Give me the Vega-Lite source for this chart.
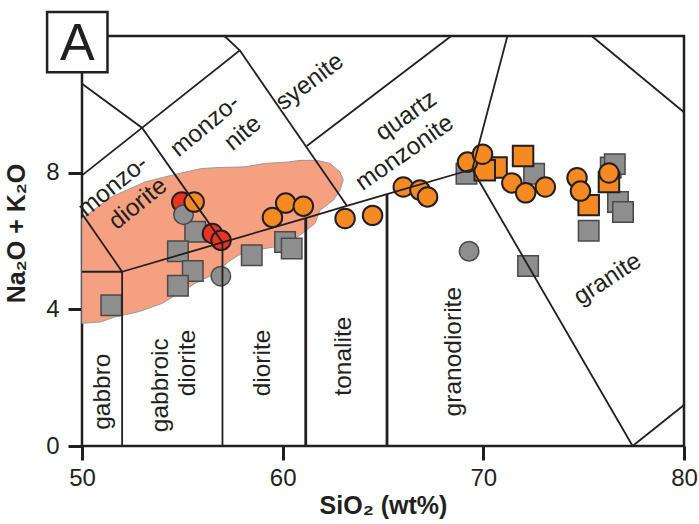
{
  "$schema": "https://vega.github.io/schema/vega-lite/v6.json",
  "width": 602,
  "height": 410,
  "autosize": {"type": "none"},
  "padding": {"left": 82, "top": 36, "right": 15, "bottom": 78},
  "background": "white",
  "config": {"view": {"stroke": "#231F20", "strokeWidth": 2.5}, "font": "Liberation Sans"},
  "datasets": {
    "blob": [
      {"i": 0, "x": 50.0, "y": 6.66}, {"i": 1, "x": 51.47, "y": 7.29}, {"i": 2, "x": 53.14, "y": 7.73},
      {"i": 3, "x": 54.79, "y": 7.97}, {"i": 4, "x": 55.95, "y": 8.12}, {"i": 5, "x": 56.78, "y": 8.15},
      {"i": 6, "x": 58.11, "y": 8.17}, {"i": 7, "x": 59.11, "y": 8.27}, {"i": 8, "x": 60.27, "y": 8.31},
      {"i": 9, "x": 60.87, "y": 8.36}, {"i": 10, "x": 61.7, "y": 8.36}, {"i": 11, "x": 62.36, "y": 8.27},
      {"i": 12, "x": 62.86, "y": 8.02}, {"i": 13, "x": 63.02, "y": 7.78}, {"i": 14, "x": 62.86, "y": 7.49},
      {"i": 15, "x": 62.52, "y": 7.19}, {"i": 16, "x": 61.86, "y": 6.9}, {"i": 17, "x": 61.61, "y": 6.51},
      {"i": 18, "x": 60.62, "y": 6.07}, {"i": 19, "x": 59.62, "y": 5.83}, {"i": 20, "x": 58.63, "y": 5.73},
      {"i": 21, "x": 57.79, "y": 5.58}, {"i": 22, "x": 57.3, "y": 5.39}, {"i": 23, "x": 56.64, "y": 5.05},
      {"i": 24, "x": 55.64, "y": 4.76}, {"i": 25, "x": 54.81, "y": 4.46}, {"i": 26, "x": 53.98, "y": 4.17},
      {"i": 27, "x": 52.82, "y": 3.93}, {"i": 28, "x": 51.66, "y": 3.78}, {"i": 29, "x": 50.91, "y": 3.63},
      {"i": 30, "x": 50.0, "y": 3.59}, {"i": 31, "x": 50.0, "y": 6.66}
    ],
    "thin": [
      {"seg": "a", "i": 0, "x": 50, "y": 5.1}, {"seg": "a", "i": 1, "x": 52, "y": 5.1},
      {"seg": "b", "i": 0, "x": 52, "y": 0}, {"seg": "b", "i": 1, "x": 52, "y": 5.1},
      {"seg": "c", "i": 0, "x": 57, "y": 0}, {"seg": "c", "i": 1, "x": 57, "y": 5.96},
      {"seg": "d", "i": 0, "x": 52, "y": 5.1}, {"seg": "d", "i": 1, "x": 57, "y": 5.96},
      {"seg": "d", "i": 2, "x": 61.15, "y": 6.67}, {"seg": "d", "i": 3, "x": 63.2, "y": 7.03},
      {"seg": "d", "i": 4, "x": 65.2, "y": 7.37}, {"seg": "d", "i": 5, "x": 69.45, "y": 8.1},
      {"seg": "e", "i": 0, "x": 50, "y": 6.8}, {"seg": "e", "i": 1, "x": 52, "y": 5.1},
      {"seg": "f", "i": 0, "x": 50, "y": 7.92}, {"seg": "f", "i": 1, "x": 57.86, "y": 11.58}, {"seg": "f", "i": 2, "x": 57.1, "y": 12},
      {"seg": "g", "i": 0, "x": 50, "y": 10.6}, {"seg": "g", "i": 1, "x": 53.0, "y": 9.31}, {"seg": "g", "i": 2, "x": 57, "y": 5.96},
      {"seg": "h", "i": 0, "x": 57.86, "y": 11.58}, {"seg": "h", "i": 1, "x": 63.2, "y": 7.03},
      {"seg": "k", "i": 0, "x": 61.2, "y": 8.78}, {"seg": "k", "i": 1, "x": 68.4, "y": 12},
      {"seg": "m", "i": 0, "x": 71.2, "y": 12}, {"seg": "m", "i": 1, "x": 69.45, "y": 8.1}, {"seg": "m", "i": 2, "x": 77.44, "y": 0},
      {"seg": "n", "i": 0, "x": 77.44, "y": 0}, {"seg": "n", "i": 1, "x": 80, "y": 1.2},
      {"seg": "p", "i": 0, "x": 75.4, "y": 12}, {"seg": "p", "i": 1, "x": 80, "y": 9.77}
    ],
    "thick": [
      {"seg": "t1", "i": 0, "x": 61.15, "y": 0}, {"seg": "t1", "i": 1, "x": 61.15, "y": 6.67},
      {"seg": "t2", "i": 0, "x": 65.2, "y": 0}, {"seg": "t2", "i": 1, "x": 65.2, "y": 7.37}
    ],
    "samples": [
      {"g": "gray_square", "x": 55.64, "y": 6.27}, {"g": "gray_square", "x": 54.78, "y": 5.7},
      {"g": "gray_square", "x": 55.52, "y": 5.12}, {"g": "gray_square", "x": 54.78, "y": 4.69},
      {"g": "gray_square", "x": 51.46, "y": 4.12}, {"g": "gray_square", "x": 58.46, "y": 5.58},
      {"g": "gray_square", "x": 60.12, "y": 5.97}, {"g": "gray_square", "x": 60.45, "y": 5.78},
      {"g": "gray_square", "x": 69.16, "y": 7.97}, {"g": "gray_square", "x": 72.53, "y": 7.97},
      {"g": "gray_square", "x": 75.25, "y": 6.3}, {"g": "gray_square", "x": 76.35, "y": 8.15},
      {"g": "gray_square", "x": 76.55, "y": 8.25}, {"g": "gray_square", "x": 76.71, "y": 7.14},
      {"g": "gray_square", "x": 76.96, "y": 6.85}, {"g": "gray_square", "x": 72.23, "y": 5.27},
      {"g": "red_circle", "x": 54.97, "y": 7.14}, {"g": "red_circle", "x": 56.5, "y": 6.22},
      {"g": "red_circle", "x": 56.93, "y": 6.02},
      {"g": "gray_circle", "x": 55.06, "y": 6.77}, {"g": "gray_circle", "x": 56.92, "y": 4.97},
      {"g": "gray_circle", "x": 69.29, "y": 5.7},
      {"g": "orange_square", "x": 70.66, "y": 8.15}, {"g": "orange_square", "x": 70.07, "y": 8.07},
      {"g": "orange_square", "x": 71.98, "y": 8.49}, {"g": "orange_square", "x": 75.25, "y": 7.05},
      {"g": "orange_square", "x": 76.26, "y": 7.73},
      {"g": "orange_circle", "x": 55.59, "y": 7.14}, {"g": "orange_circle", "x": 59.49, "y": 6.69},
      {"g": "orange_circle", "x": 60.15, "y": 7.11}, {"g": "orange_circle", "x": 61.03, "y": 7.02},
      {"g": "orange_circle", "x": 63.11, "y": 6.66}, {"g": "orange_circle", "x": 64.48, "y": 6.75},
      {"g": "orange_circle", "x": 66.01, "y": 7.58}, {"g": "orange_circle", "x": 66.84, "y": 7.49},
      {"g": "orange_circle", "x": 67.22, "y": 7.29}, {"g": "orange_circle", "x": 69.21, "y": 8.31},
      {"g": "orange_circle", "x": 69.96, "y": 8.54}, {"g": "orange_circle", "x": 71.42, "y": 7.7},
      {"g": "orange_circle", "x": 72.11, "y": 7.41}, {"g": "orange_circle", "x": 73.09, "y": 7.58},
      {"g": "orange_circle", "x": 74.67, "y": 7.85}, {"g": "orange_circle", "x": 74.84, "y": 7.46},
      {"g": "orange_circle", "x": 76.26, "y": 7.99}
    ],
    "labels": [
      {"zone": "monzodiorite", "text": "monzo-", "x": 51.56, "y": 7.6},
      {"zone": "monzodiorite", "text": "diorite", "x": 52.8, "y": 7.08},
      {"zone": "monzonite", "text": "monzo-", "x": 56.15, "y": 9.36},
      {"zone": "monzonite", "text": "nite", "x": 58.03, "y": 9.15},
      {"zone": "syenite", "text": "syenite", "x": 61.36, "y": 10.65},
      {"zone": "quartz monzonite", "text": "quartz", "x": 66.17, "y": 9.65},
      {"zone": "quartz monzonite", "text": "monzonite", "x": 66.09, "y": 8.57},
      {"zone": "granite", "text": "granite", "x": 76.2, "y": 4.88},
      {"zone": "gabbro", "text": "gabbro", "x": 51.06, "y": 1.59},
      {"zone": "gabbroic diorite", "text": "gabbroic", "x": 53.95, "y": 1.78},
      {"zone": "gabbroic diorite", "text": "diorite", "x": 55.29, "y": 2.43},
      {"zone": "diorite", "text": "diorite", "x": 59.02, "y": 2.43},
      {"zone": "tonalite", "text": "tonalite", "x": 63.05, "y": 2.63},
      {"zone": "granodiorite", "text": "granodiorite", "x": 68.53, "y": 2.76}
    ],
    "panel": [
      {"x": 48.26, "x2": 51.27, "y": 10.94, "y2": 12.7, "label": "A", "tx": 49.77, "ty": 11.29}
    ]
  },
  "encoding": {
    "x": {
      "field": "x", "type": "quantitative",
      "scale": {"domain": [50, 80], "nice": false, "zero": false},
      "axis": {
        "values": [50, 60, 70, 80], "title": "SiO₂ (wt%)", "grid": false, "domain": false,
        "tickSize": 14, "tickWidth": 3, "tickColor": "#231F20",
        "labelFontSize": 24, "labelColor": "#231F20", "labelPadding": 6, "labelFlush": false,
        "labelFont": "Liberation Sans", "titleFont": "Liberation Sans", "titleFontSize": 25,
        "titleFontWeight": "bold", "titleColor": "#231F20",
        "titleX": 301, "titleY": 67, "titleAlign": "center", "titleBaseline": "alphabetic"
      }
    },
    "y": {
      "field": "y", "type": "quantitative",
      "scale": {"domain": [0, 12], "nice": false, "zero": false},
      "axis": {
        "values": [0, 4, 8], "title": "Na₂O + K₂O", "grid": false, "domain": false,
        "tickSize": 14, "tickWidth": 3, "tickColor": "#231F20",
        "labelFontSize": 24, "labelColor": "#231F20", "labelPadding": 9,
        "labelFont": "Liberation Sans", "titleFont": "Liberation Sans", "titleFontSize": 25,
        "titleFontWeight": "bold", "titleColor": "#231F20",
        "titleX": -58, "titleY": 197, "titleAngle": 270, "titleAlign": "center", "titleBaseline": "alphabetic"
      }
    }
  },
  "layer": [
    {
      "data": {"name": "blob"},
      "mark": {"type": "line", "filled": true, "fill": "#F4A081", "stroke": "#9A9A9A", "strokeWidth": 1},
      "encoding": {"order": {"field": "i", "type": "quantitative"}}
    },
    {
      "data": {"name": "samples"},
      "transform": [{"filter": "datum.g === 'gray_square'"}],
      "mark": {"type": "point", "shape": "square", "filled": true, "fill": "#8E8E8E", "stroke": "#4A4A4A", "strokeWidth": 1.5, "size": 420, "opacity": 1}
    },
    {
      "data": {"name": "samples"},
      "transform": [{"filter": "datum.g === 'red_circle'"}],
      "mark": {"type": "point", "shape": "circle", "filled": true, "fill": "#EC3323", "stroke": "#231F20", "strokeWidth": 2, "size": 380, "opacity": 1}
    },
    {
      "data": {"name": "samples"},
      "transform": [{"filter": "datum.g === 'gray_circle'"}],
      "mark": {"type": "point", "shape": "circle", "filled": true, "fill": "#8E8E8E", "stroke": "#4A4A4A", "strokeWidth": 1.5, "size": 380, "opacity": 1}
    },
    {
      "data": {"name": "samples"},
      "transform": [{"filter": "datum.g === 'orange_square'"}],
      "mark": {"type": "point", "shape": "square", "filled": true, "fill": "#F58A22", "stroke": "#231F20", "strokeWidth": 2, "size": 420, "opacity": 1}
    },
    {
      "data": {"name": "samples"},
      "transform": [{"filter": "datum.g === 'orange_circle'"}],
      "mark": {"type": "point", "shape": "circle", "filled": true, "fill": "#F58A22", "stroke": "#231F20", "strokeWidth": 2, "size": 380, "opacity": 1}
    },
    {
      "data": {"name": "thin"},
      "mark": {"type": "line", "stroke": "#231F20", "strokeWidth": 1.8},
      "encoding": {"detail": {"field": "seg"}, "order": {"field": "i", "type": "quantitative"}}
    },
    {
      "data": {"name": "thick"},
      "mark": {"type": "line", "stroke": "#231F20", "strokeWidth": 2.8},
      "encoding": {"detail": {"field": "seg"}, "order": {"field": "i", "type": "quantitative"}}
    },
    {
      "data": {"name": "labels"},
      "transform": [{"filter": {"field": "zone", "oneOf": ["monzodiorite"]}}],
      "mark": {"type": "text", "angle": -39, "fontSize": 24.5, "color": "#231F20", "align": "center", "baseline": "middle", "font": "Liberation Sans"},
      "encoding": {"text": {"field": "text"}}
    },
    {
      "data": {"name": "labels"},
      "transform": [{"filter": {"field": "zone", "oneOf": ["monzonite"]}}],
      "mark": {"type": "text", "angle": -40, "fontSize": 24.5, "color": "#231F20", "align": "center", "baseline": "middle", "font": "Liberation Sans"},
      "encoding": {"text": {"field": "text"}}
    },
    {
      "data": {"name": "labels"},
      "transform": [{"filter": {"field": "zone", "oneOf": ["syenite"]}}],
      "mark": {"type": "text", "angle": -37, "fontSize": 24.5, "color": "#231F20", "align": "center", "baseline": "middle", "font": "Liberation Sans"},
      "encoding": {"text": {"field": "text"}}
    },
    {
      "data": {"name": "labels"},
      "transform": [{"filter": {"field": "zone", "oneOf": ["quartz monzonite"]}}],
      "mark": {"type": "text", "angle": -35, "fontSize": 24.5, "color": "#231F20", "align": "center", "baseline": "middle", "font": "Liberation Sans"},
      "encoding": {"text": {"field": "text"}}
    },
    {
      "data": {"name": "labels"},
      "transform": [{"filter": {"field": "zone", "oneOf": ["granite"]}}],
      "mark": {"type": "text", "angle": -33, "fontSize": 24.5, "color": "#231F20", "align": "center", "baseline": "middle", "font": "Liberation Sans"},
      "encoding": {"text": {"field": "text"}}
    },
    {
      "data": {"name": "labels"},
      "transform": [{"filter": {"field": "zone", "oneOf": ["gabbro", "gabbroic diorite", "diorite", "tonalite", "granodiorite"]}}],
      "mark": {"type": "text", "angle": 270, "fontSize": 24.5, "color": "#231F20", "align": "center", "baseline": "middle", "font": "Liberation Sans"},
      "encoding": {"text": {"field": "text"}}
    },
    {
      "data": {"name": "panel"},
      "mark": {"type": "rect", "fill": "white", "stroke": "#231F20", "strokeWidth": 2.5},
      "encoding": {"x2": {"field": "x2"}, "y2": {"field": "y2"}}
    },
    {
      "data": {"name": "panel"},
      "mark": {"type": "text", "fontSize": 52, "color": "#231F20", "align": "center", "baseline": "alphabetic", "font": "Liberation Sans"},
      "encoding": {
        "x": {"field": "tx", "type": "quantitative"},
        "y": {"field": "ty", "type": "quantitative"},
        "text": {"field": "label"}
      }
    }
  ]
}
